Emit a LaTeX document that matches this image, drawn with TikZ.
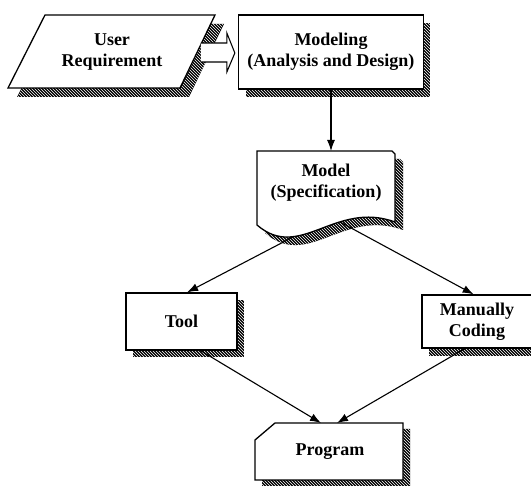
\documentclass[tikz,border=0pt]{standalone}
\usepackage{fontspec}
\setmainfont{Liberation Serif}
\usetikzlibrary{arrows.meta,calc,patterns}

\tikzset{
  outline/.style={draw=black, line width=1.3pt, fill=white, line join=miter},
  hatched/.style={fill=black, postaction={pattern=north west lines, pattern color=white}},
  label text/.style={align=center, font=\bfseries\fontsize{18}{21}\selectfont, inner sep=0pt},
  flow/.style={draw=black, line width=1.1pt, -{Latex[length=11pt,width=8pt]}},
}

\begin{document}
\begin{tikzpicture}[x=1pt,y=-1pt]
\useasboundingbox (0,0) rectangle (531,486);

% ---- User Requirement (input parallelogram) ----
\path[hatched, shift={(9,9)}] (45,15) -- (215,15) -- (180,88) -- (8,88) -- cycle;
\path[outline] (45,15) -- (215,15) -- (180,88) -- (8,88) -- cycle;
\node[label text] (ur) at (112,52) {User\\Requirement};

% ---- Modeling box ----
\fill[hatched] (246,23) rectangle (430,97);
\node[outline, label text, minimum width=185pt, minimum height=74pt] (mod) at (331,52)
  {Modeling\\(Analysis and Design)};

% ---- hollow block arrow from User Requirement into Modeling ----
\path[outline, line width=1.1pt]
  ($(mod.west)+(-37,-9)$) -- ($(mod.west)+(-11,-9)$) -- ($(mod.west)+(-11,-19)$)
  -- ($(mod.west)+(-3,1)$) -- ($(mod.west)+(-11,20)$) -- ($(mod.west)+(-11,10)$)
  -- ($(mod.west)+(-37,10)$);

% ---- Model (Specification) document ----
\path[hatched, shift={(8,8)}] (257,151) -- (392,151) -- (395,154) -- (395,222)
  .. controls (335,200) and (300,262) .. (257,225) -- cycle;
\path[outline] (257,151) -- (392,151) -- (395,154) -- (395,222)
  .. controls (335,200) and (300,262) .. (257,225) -- cycle;
\node[label text] (spec) at (326,183) {Model\\(Specification)};
\coordinate (specTop) at (331,151);
\coordinate (specL) at (293,237);
\coordinate (specR) at (340,222);

% ---- Tool box ----
\fill[hatched] (133,300) rectangle (244,357);
\node[outline, label text, minimum width=111pt, minimum height=57pt] (tool) at (181.5,321.5) {Tool};

% ---- Manually Coding box ----
\fill[hatched] (429,302) rectangle (540,356);
\node[outline, label text, minimum width=110pt, minimum height=53pt] (man) at (477,321.5) {Manually\\Coding};

% ---- Program (card) ----
\path[hatched, shift={(7,6)}] (275,423) -- (403,423) -- (403,480) -- (255,480) -- (255,440) -- cycle;
\path[outline] (275,423) -- (403,423) -- (403,480) -- (255,480) -- (255,440) -- cycle;
\node[label text] (prog) at (330,452) {Program};
\coordinate (progTop) at (329,423);

% ---- connectors ----
\draw[flow] (mod.south) -- (specTop);
\draw[flow] (specL) -- ($(tool.north west)!0.55!(tool.north east)$);
\draw[flow] (specR) -- ($(man.north west)!0.47!(man.north east)$);
\draw[flow] ($(tool.south west)!0.67!(tool.south east)$) -- ($(progTop)+(-8,0)$);
\draw[flow] ($(man.south west)!0.39!(man.south east)$) -- ($(progTop)+(8,0)$);
\end{tikzpicture}
\end{document}
